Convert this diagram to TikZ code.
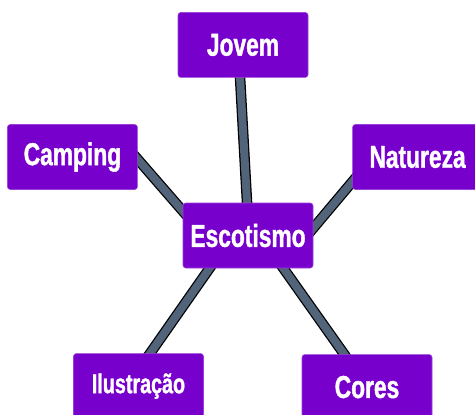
\documentclass[tikz,border=0pt]{standalone}
\usepackage{fontspec}
\usepackage{tikz}
\usetikzlibrary{positioning, backgrounds}
\newfontfamily\topicfont[FakeStretch=0.72,FakeBold=1.2]{Liberation Sans}
\definecolor{scoutpurple}{RGB}{119,0,204}
\definecolor{linkslate}{RGB}{82,100,122}

\begin{document}
\begin{tikzpicture}[
  topic/.style={draw=scoutpurple!75!white,fill=scoutpurple,rounded corners=2pt,
    minimum width=3.25cm,minimum height=1.625cm,inner sep=0pt,text=white,
    font=\topicfont\bfseries\fontsize{22.5}{24}\selectfont},
  link/.style={draw=black,line width=0.9pt,double=linkslate,double distance=0.2cm}]
  \useasboundingbox (0,0) rectangle (11.875,10.35);
  %% hub
  \node[topic](esc) at (6.2,4.4625){Escotismo};
  %% topics round it
  \node[topic,above=3.125cm of esc,xshift=-0.125cm](jov){Jovem};
  \node[topic,left=1.125cm of esc,yshift=1.9625cm](camp){Camping};
  \node[topic,right=0.975cm of esc,yshift=1.9625cm](nat){Natureza};
  \node[topic,below=2.125cm of esc,xshift=-2.7375cm,
    font=\topicfont\bfseries\fontsize{19.5}{21}\selectfont](ilu){Ilustração};
  \node[topic,below=2.15cm of esc,xshift=2.975cm](cor){Cores};
  %% links
  \begin{scope}[on background layer]
    \draw[link]([shift={(-0.1,-0.35)}]jov.center)--([shift={(0,0.39)}]esc.center);
    \draw[link]([shift={(1.3,0.325)}]camp.center)--([shift={(-1.325,0.26)}]esc.center);
    \draw[link]([shift={(-1.3,-0.225)}]nat.center)--([shift={(1.3,-0.21)}]esc.center);
    \draw[link]([shift={(0.06,0.49)}]ilu.center)--([shift={(-0.675,-0.41)}]esc.center);
    \draw[link]([shift={(-0.325,0.475)}]cor.center)--([shift={(0.7,-0.56)}]esc.center);
  \end{scope}
\end{tikzpicture}
\end{document}
